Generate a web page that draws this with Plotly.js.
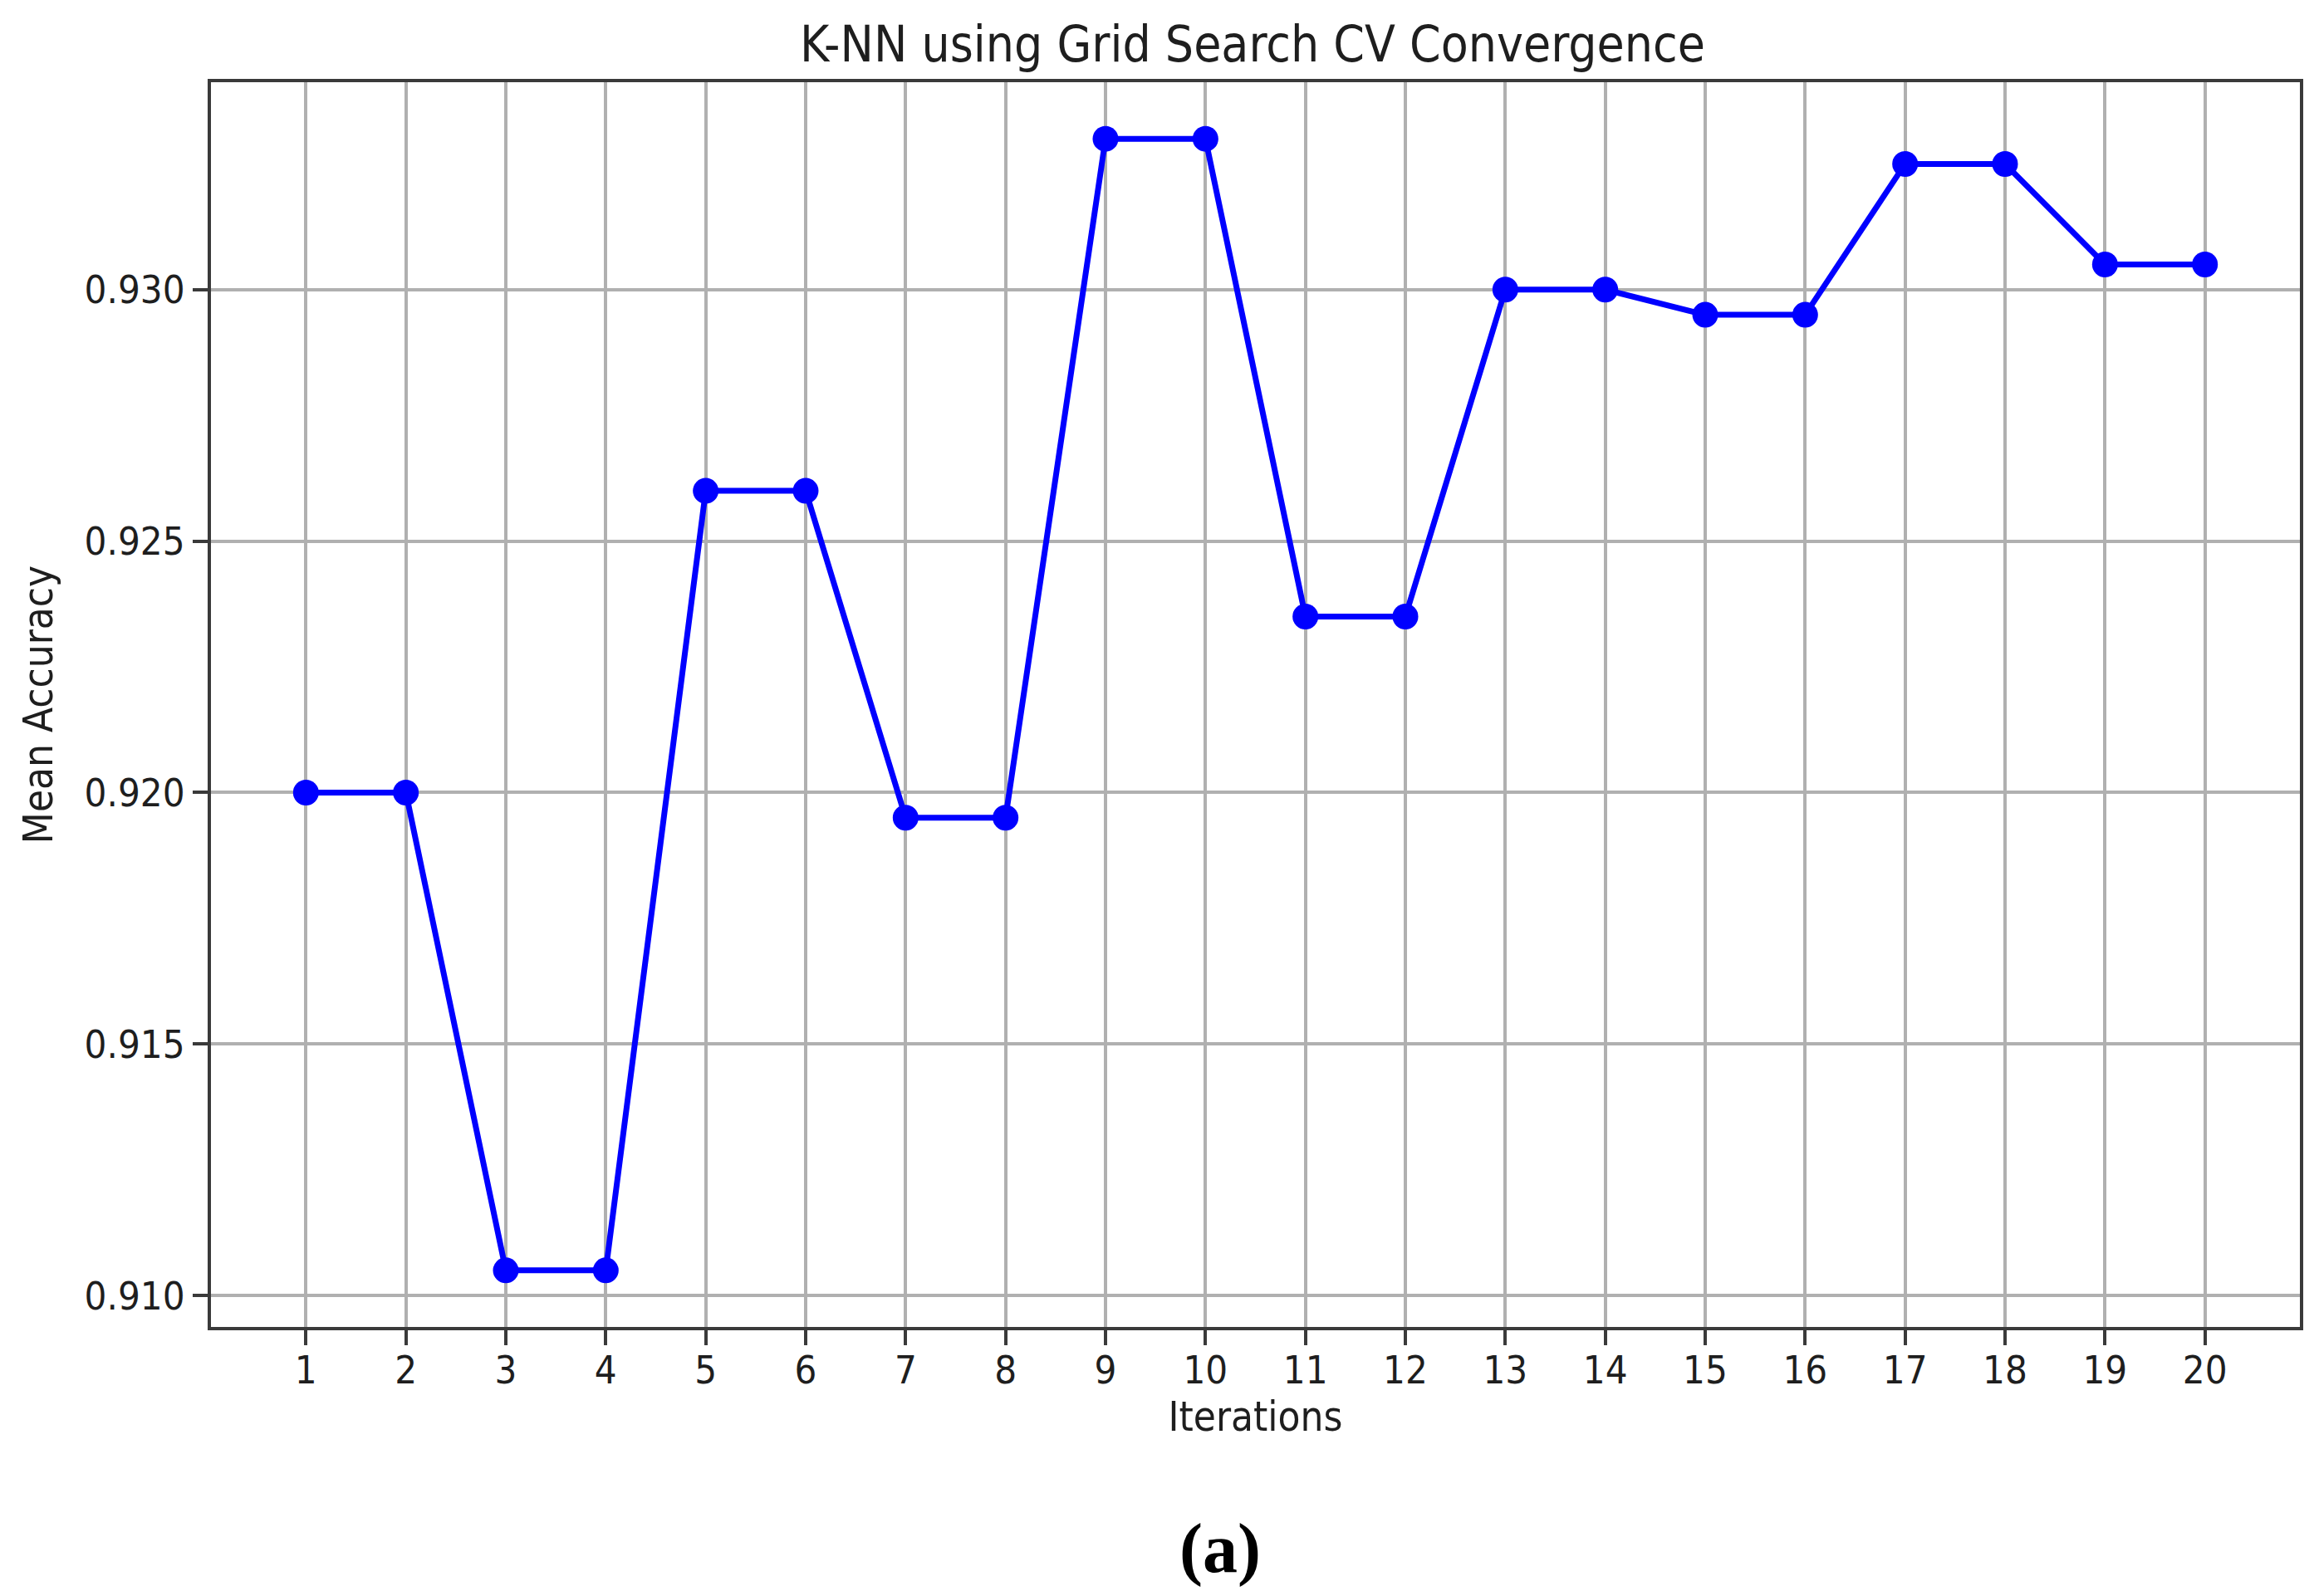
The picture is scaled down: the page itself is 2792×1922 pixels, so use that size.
<!DOCTYPE html>
<html>
<head>
<meta charset="utf-8">
<script src="https://cdn.plot.ly/plotly-3.0.1.min.js"></script>
<style>html,body{margin:0;padding:0;background:#fff;}#chart{width:2792px;height:1922px;}</style>
</head>
<body>
<div id="chart"></div>
<script>
const iterations = [1,2,3,4,5,6,7,8,9,10,11,12,13,14,15,16,17,18,19,20];
const meanAccuracy = [0.9200,0.9200,0.9105,0.9105,0.9260,0.9260,0.9195,0.9195,0.9330,0.9330,
                      0.9235,0.9235,0.9300,0.9300,0.9295,0.9295,0.9325,0.9325,0.9305,0.9305];
const yTickVals = [0.910,0.915,0.920,0.925,0.930];
const yTickText = ["0.910","0.915","0.920","0.925","0.930"];
const chartTitle = "K-NN using Grid Search CV Convergence";
const xLabel = "Iterations";
const yLabel = "Mean Accuracy";
const panelLabel = "(a)";

const FONT = "DejaVu Sans Condensed, DejaVu Sans, sans-serif";
const TXT = "#1e1e1e";

const trace = {
  x: iterations, y: meanAccuracy, type: "scatter", mode: "lines+markers",
  line: {color: "#0000ff", width: 7},
  marker: {color: "#0000ff", size: 31},
  hoverinfo: "skip"
};

const layout = {
  width: 2792, height: 1922,
  paper_bgcolor: "#ffffff", plot_bgcolor: "#ffffff",
  margin: {l: 254, r: 23, t: 99, b: 324, pad: 0},
  showlegend: false,
  title: {text: chartTitle, font: {family: FONT, size: 60, color: TXT},
          x: 0.4986, xanchor: "center", xref: "paper", yref: "container", y: 1 - 53/1922, yanchor: "middle"},
  xaxis: {
    range: [0.05, 20.95], tickmode: "array", tickvals: iterations, ticktext: iterations.map(String),
    showgrid: true, gridcolor: "#b0b0b0", gridwidth: 4,
    showline: true, linecolor: "#3a3a3a", linewidth: 4, mirror: true,
    ticks: "outside", ticklen: 18, tickwidth: 4, tickcolor: "#3a3a3a",
    ticklabelstandoff: -10,
    tickfont: {family: FONT, size: 47, color: TXT},
    zeroline: false, automargin: false,
    title: {text: xLabel, font: {family: FONT, size: 49, color: TXT}, standoff: 13}
  },
  yaxis: {
    range: [0.909375, 0.934125], tickmode: "array", tickvals: yTickVals, ticktext: yTickText,
    showgrid: true, gridcolor: "#b0b0b0", gridwidth: 4,
    showline: true, linecolor: "#3a3a3a", linewidth: 4, mirror: true,
    ticks: "outside", ticklen: 18, tickwidth: 4, tickcolor: "#3a3a3a",
    tickfont: {family: FONT, size: 47, color: TXT},
    zeroline: false, automargin: false,
    title: {text: yLabel, font: {family: FONT, size: 49, color: TXT}, standoff: 23}
  },
  annotations: [{
    text: "<b>" + panelLabel + "</b>", xref: "paper", yref: "paper",
    x: 0.483, y: -0.178, xanchor: "center", yanchor: "middle", showarrow: false,
    font: {family: "Liberation Serif, Times New Roman, serif", size: 84, color: "#000000"}
  }]
};

Plotly.newPlot("chart", [trace], layout, {displayModeBar: false, staticPlot: true});
</script>
</body>
</html>
